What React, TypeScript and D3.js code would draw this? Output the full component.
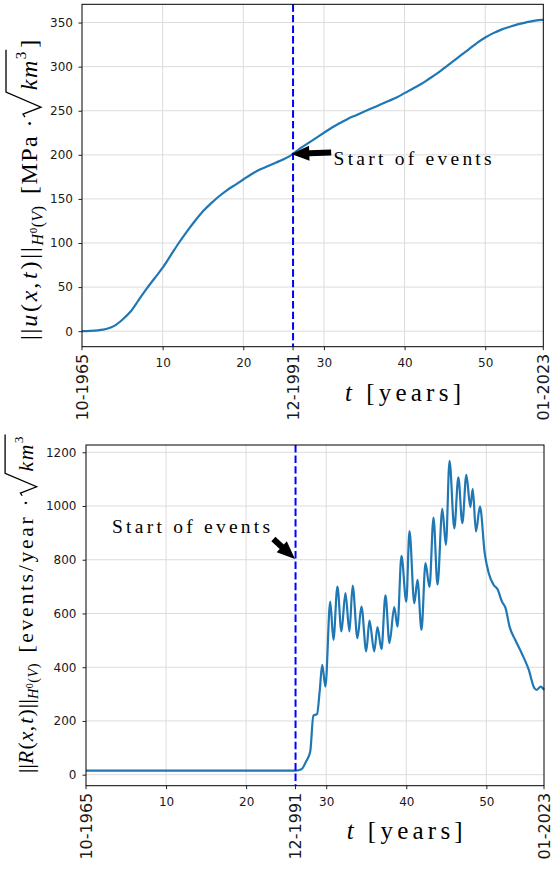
import React, { useEffect, useRef } from 'react';
import * as d3 from 'd3';

// ||u(x,t)|| read roughly once a year off the upper panel
const uYears = [0, 1, 2, 3, 4, 5, 6, 7, 8, 9, 10, 11, 12, 13, 14, 15, 16, 17, 18, 19, 20, 21, 22, 23, 24, 25, 26,
  27, 28, 29, 30, 31, 32, 33, 34, 35, 36, 37, 38, 39, 40, 41, 42, 43, 44, 45, 46, 47, 48, 49, 50, 51, 52, 53, 54,
  55, 56, 57, 57.2];
const uValues = [0, 0.3, 1, 2.5, 6, 13, 22, 35, 48, 60, 72, 86, 100, 113, 125, 136, 145, 153, 160, 166, 172, 178,
  183, 187, 191, 195, 200, 207, 213, 219, 225, 231, 236, 241, 245, 249, 253, 257, 261, 265, 270, 275, 280, 286,
  292, 299, 306, 313, 320, 327, 333, 338, 342, 345, 348, 350, 352, 353, 353];

// ||R(x,t)|| peaks and troughs of the lower panel
const rYears = [0, 26.2, 26.9, 27.5, 28.0, 28.4, 28.85, 29.2, 29.5, 29.9, 30.5, 30.9, 31.4, 31.9, 32.4, 32.9, 33.3,
  33.9, 34.4, 35.0, 35.4, 36.0, 36.4, 36.9, 37.4, 37.9, 38.5, 38.9, 39.4, 40.0, 40.4, 41.0, 41.4, 41.9, 42.4, 42.9,
  43.4, 43.9, 44.5, 44.95, 45.4, 46.0, 46.5, 47.0, 47.5, 48.0, 48.3, 48.7, 49.2, 49.8, 50.3, 50.9, 51.4, 51.95,
  52.4, 52.9, 53.6, 54.4, 55.3, 56.0, 56.3, 56.8, 57.2];
const rValues = [15, 15, 20, 50, 85, 220, 225, 316, 409, 328, 644, 502, 700, 533, 676, 533, 704, 508, 626, 459,
  573, 459, 549, 467, 667, 490, 624, 551, 814, 644, 907, 638, 725, 539, 787, 698, 957, 707, 989, 855, 1168, 917,
  1107, 936, 1116, 996, 1064, 905, 998, 824, 750, 707, 690, 644, 620, 551, 502, 453, 390, 322, 316, 328, 316];

const uTicks = [0, 50, 100, 150, 200, 250, 300, 350];
const rTicks = [0, 200, 400, 600, 800, 1000, 1200];
const yearTicks = [10, 20, 30, 40, 50];
const dateTicks = [0, 26.17, 57.2];
const dateLabels = ['10-1965', '12-1991', '01-2023'];
const eventYear = 26.17;
const tEnd = 57.2;

const SERIF = '"Liberation Serif", "DejaVu Serif", serif';
const SANS = '"DejaVu Sans", sans-serif';

type Seg = { s: string; it?: boolean; fs: number; dy?: number; dx?: number; ls?: number; mark?: string };

// label pieces; k scales the whole label, lo/hi are letter spacings of the two halves
const normSegs = (f: string, unit: string, k: number, lo: number, hi: number): Seg[] => [
  { s: '||', fs: 24 * k, ls: lo }, { s: f, it: true, fs: 24 * k, ls: lo + 1 }, { s: '(', fs: 24 * k, ls: lo + 1 },
  { s: 'x', it: true, fs: 24 * k, ls: lo }, { s: ',', fs: 24 * k, ls: lo + 2 }, { s: 't', it: true, fs: 24 * k, ls: lo + 1 },
  { s: ')', fs: 24 * k, ls: lo + 1 }, { s: '||', fs: 24 * k, ls: lo },
  { s: 'H', it: true, fs: 16 * k, dy: 6 * k, ls: 0.5 }, { s: '0', fs: 11 * k, dy: -6 * k, ls: 0.5 },
  { s: '(', fs: 16 * k, dy: 6 * k, ls: 0.5 }, { s: 'V', it: true, fs: 16 * k, ls: 0.5 }, { s: ')', fs: 16 * k },
  { s: unit, fs: 24 * k, dy: -6 * k, dx: 12 * k, ls: hi },
  { s: 'km', it: true, fs: 24 * k, dx: 28 * k, ls: 1.5, mark: 'rad' }, { s: '3', fs: 15 * k, dy: -11 * k, mark: 'sup' },
  { s: ']', fs: 24 * k, dy: 11 * k, dx: 4 * k },
];

const panels = [
  {
    left: 82, right: 543.3, top: 4.3, bottom: 346.7, yDomain: [-17.6, 370.7], yTicks: uTicks,
    xs: uYears, ys: uValues, yPad: 5.5,
    k: 1, segs: normSegs('u', '[MPa ·', 1, 1.8, 1.4),
    labelX: 37, labelY: 340, clipTop: 0,
    note: { text: [31.2, 188.5], tail: [30.9, 202.5], head: [25.95, 201] },
  },
  {
    left: 86, right: 544, top: 445, bottom: 785.7, yDomain: [-41, 1227], yTicks: rTicks,
    xs: rYears, ys: rValues, yPad: 6,
    k: 0.9, segs: normSegs('R', '[events/year ·', 0.9, 0.2, 2.7),
    labelX: 33, labelY: 773, clipTop: 434,
    note: { text: [3.25, 900], tail: [23.4, 877], head: [26.1, 803] },
  },
];

function arrowPoints(x0: number, y0: number, x1: number, y1: number) {
  const shaft = 6, headW = 15, headL = 18;
  const dx = x1 - x0, dy = y1 - y0, L = Math.hypot(dx, dy);
  const ux = dx / L, uy = dy / L, nx = -uy, ny = ux;
  const bx = x1 - ux * headL, by = y1 - uy * headL;
  const p = (x: number, y: number, k: number) => `${x + nx * k},${y + ny * k}`;
  return [p(x0, y0, shaft / 2), p(bx, by, shaft / 2), p(bx, by, headW / 2), `${x1},${y1}`,
    p(bx, by, -headW / 2), p(bx, by, -shaft / 2), p(x0, y0, -shaft / 2)].join(' ');
}

function drawPanel(svg: any, p: any, i: number) {
  const x = d3.scaleLinear().domain([0, tEnd]).range([p.left, p.right]);
  const y = d3.scaleLinear().domain(p.yDomain).range([p.bottom, p.top]);
  const g = svg.append('g');

  g.selectAll('.gx').data(yearTicks).join('line').attr('class', 'gx')
    .attr('x1', (d: number) => x(d)).attr('x2', (d: number) => x(d))
    .attr('y1', p.top).attr('y2', p.bottom).attr('stroke', '#dcdcdc').attr('stroke-width', 1);
  g.selectAll('.gy').data(p.yTicks).join('line').attr('class', 'gy')
    .attr('x1', p.left).attr('x2', p.right)
    .attr('y1', (d: number) => y(d)).attr('y2', (d: number) => y(d))
    .attr('stroke', '#dcdcdc').attr('stroke-width', 1);

  const line = d3.line<number>().x((d, k) => x(p.xs[k])).y(d => y(d)).curve(d3.curveMonotoneX);
  g.append('path').attr('d', line(p.ys)).attr('fill', 'none')
    .attr('stroke', '#1f77b4').attr('stroke-width', 2.2);

  g.append('line').attr('x1', x(eventYear)).attr('x2', x(eventYear))
    .attr('y1', p.top).attr('y2', p.bottom)
    .attr('stroke', '#0000ff').attr('stroke-width', 2).attr('stroke-dasharray', '7.4,3.2');

  g.append('rect').attr('x', p.left).attr('y', p.top)
    .attr('width', p.right - p.left).attr('height', p.bottom - p.top)
    .attr('fill', 'none').attr('stroke', '#000').attr('stroke-width', 1);

  const ax = g.append('g').attr('transform', `translate(0,${p.bottom})`)
    .call(d3.axisBottom(x).tickValues(yearTicks).tickSize(3.5).tickPadding(8).tickFormat(d3.format('d')));
  const ay = g.append('g').attr('transform', `translate(${p.left},0)`)
    .call(d3.axisLeft(y).tickValues(p.yTicks).tickSize(3.5).tickPadding(p.yPad).tickFormat(d3.format('d')));
  [ax, ay].forEach(a => {
    a.select('.domain').remove();
    a.attr('font-family', SANS).attr('font-size', 12);
    a.selectAll('text').attr('fill', '#1a1a1a');
    a.selectAll('line').attr('stroke', '#222');
  });

  const dates = g.selectAll('.date').data(dateTicks).join('g').attr('class', 'date');
  dates.append('line').attr('x1', (d: number) => x(d)).attr('x2', (d: number) => x(d))
    .attr('y1', p.bottom).attr('y2', p.bottom + 3.5).attr('stroke', '#222');
  dates.append('text')
    .attr('transform', (d: number) => `translate(${x(d)},${p.bottom + 7}) rotate(-90)`)
    .attr('text-anchor', 'end').attr('dy', '0.36em')
    .attr('font-family', SANS).attr('font-size', 16).attr('fill', '#1a1a1a')
    .text((d: number, k: number) => dateLabels[k]);

  const xl = g.append('text').attr('x', x(39.8)).attr('y', p.bottom + (i === 0 ? 54.5 : 52.8))
    .attr('text-anchor', 'middle').attr('font-family', SERIF).attr('font-size', 25)
    .attr('textLength', 116).attr('lengthAdjust', 'spacing');
  xl.append('tspan').attr('font-style', 'italic').text('t');
  xl.append('tspan').attr('dx', 10).text('[years]');

  const n = p.note;
  g.append('text').attr('x', x(n.text[0])).attr('y', y(n.text[1]))
    .attr('font-family', SERIF).attr('font-size', 19.5)
    .attr('textLength', 158).attr('lengthAdjust', 'spacing').text('Start of events');
  g.append('polygon').attr('points', arrowPoints(x(n.tail[0]), y(n.tail[1]), x(n.head[0]), y(n.head[1])))
    .attr('fill', '#000');

  // rotated y label with a drawn radical
  const outer = svg.append('g');
  if (p.clipTop) {
    svg.append('clipPath').attr('id', `lab${i}`).append('rect')
      .attr('x', 0).attr('y', p.clipTop).attr('width', 80).attr('height', 869 - p.clipTop);
    outer.attr('clip-path', `url(#lab${i})`);
  }
  const lg = outer.append('g').attr('transform', `translate(${p.labelX},${p.labelY}) rotate(-90)`);
  const text = lg.append('text').attr('font-family', SERIF).attr('fill', '#000');
  let idx = 0, radIdx = 0, supIdx = 0;
  p.segs.forEach((s: Seg) => {
    const t = text.append('tspan').text(s.s).attr('font-size', s.fs)
      .attr('font-style', s.it ? 'italic' : 'normal');
    if (s.dy) t.attr('dy', s.dy);
    if (s.dx) t.attr('dx', s.dx);
    if (s.ls) t.attr('letter-spacing', s.ls);
    if (s.mark === 'rad') radIdx = idx;
    if (s.mark === 'sup') supIdx = idx;
    idx += s.s.length;
  });
  const node = text.node() as SVGTextElement;
  const a = node.getStartPositionOfChar(radIdx);
  const b = node.getEndPositionOfChar(supIdx);
  const k = p.k;
  const gx = a.x - 27 * k;
  lg.append('path')
    .attr('d', `M${gx},${-12 * k} L${gx + 3 * k},${-14 * k} L${gx + 10 * k},${4 * k} ` +
      `L${gx + 25 * k},${-31 * k} L${b.x + 2},${-31 * k}`)
    .attr('fill', 'none').attr('stroke', '#000').attr('stroke-width', 1.3).attr('stroke-linejoin', 'miter');
}

export default function App() {
  const ref = useRef<SVGSVGElement>(null);
  useEffect(() => {
    const svg = d3.select(ref.current);
    svg.selectAll('*').remove();
    panels.forEach((p, i) => drawPanel(svg, p, i));
  }, []);
  return (
    <svg ref={ref} width={553} height={869}
      style={{ position: 'absolute', left: 0, top: 0, background: '#fff' }} />
  );
}
